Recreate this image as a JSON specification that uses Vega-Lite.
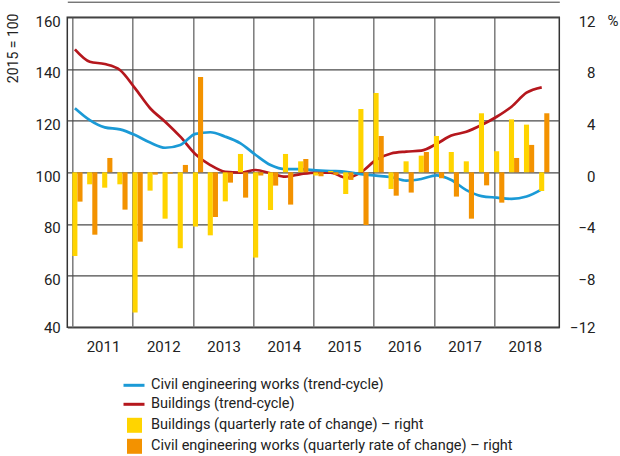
{
  "$schema": "https://vega.github.io/schema/vega-lite/v6.json",
  "width": 492,
  "height": 310,
  "autosize": {"type": "none"},
  "padding": {"left": 67.3, "top": 17.3, "right": 60.7, "bottom": 128.7},
  "background": "white",
  "config": {
    "font": "Roboto",
    "view": {"stroke": "#333333", "strokeWidth": 1.5},
    "axis": {
      "labelFont": "Roboto",
      "labelFontSize": 15,
      "labelColor": "#222222",
      "titleFont": "Roboto",
      "titleFontSize": 14,
      "titleFontWeight": "normal",
      "titleColor": "#222222",
      "ticks": false,
      "tickSize": 0,
      "domain": false
    },
    "legend": {
      "labelFont": "Roboto",
      "labelFontSize": 14.5,
      "labelColor": "#222222",
      "labelLimit": 500,
      "padding": 0,
      "title": null
    }
  },
  "datasets": {
    "trend": [
      {"date": "2011-01-01", "series": "Buildings (trend-cycle)", "value": 147.6},
      {"date": "2011-04-01", "series": "Buildings (trend-cycle)", "value": 142.8},
      {"date": "2011-07-01", "series": "Buildings (trend-cycle)", "value": 141.9},
      {"date": "2011-10-01", "series": "Buildings (trend-cycle)", "value": 139.6},
      {"date": "2012-01-01", "series": "Buildings (trend-cycle)", "value": 132.5},
      {"date": "2012-04-01", "series": "Buildings (trend-cycle)", "value": 124.8},
      {"date": "2012-07-01", "series": "Buildings (trend-cycle)", "value": 119.6},
      {"date": "2012-10-01", "series": "Buildings (trend-cycle)", "value": 113.8},
      {"date": "2013-01-01", "series": "Buildings (trend-cycle)", "value": 107.0},
      {"date": "2013-04-01", "series": "Buildings (trend-cycle)", "value": 102.8},
      {"date": "2013-07-01", "series": "Buildings (trend-cycle)", "value": 100.2},
      {"date": "2013-10-01", "series": "Buildings (trend-cycle)", "value": 99.9},
      {"date": "2014-01-01", "series": "Buildings (trend-cycle)", "value": 100.9},
      {"date": "2014-04-01", "series": "Buildings (trend-cycle)", "value": 99.6},
      {"date": "2014-07-01", "series": "Buildings (trend-cycle)", "value": 98.3},
      {"date": "2014-10-01", "series": "Buildings (trend-cycle)", "value": 99.3},
      {"date": "2015-01-01", "series": "Buildings (trend-cycle)", "value": 99.9},
      {"date": "2015-04-01", "series": "Buildings (trend-cycle)", "value": 99.9},
      {"date": "2015-07-01", "series": "Buildings (trend-cycle)", "value": 97.9},
      {"date": "2015-10-01", "series": "Buildings (trend-cycle)", "value": 100.0},
      {"date": "2016-01-01", "series": "Buildings (trend-cycle)", "value": 104.8},
      {"date": "2016-04-01", "series": "Buildings (trend-cycle)", "value": 107.3},
      {"date": "2016-07-01", "series": "Buildings (trend-cycle)", "value": 108.0},
      {"date": "2016-10-01", "series": "Buildings (trend-cycle)", "value": 108.4},
      {"date": "2017-01-01", "series": "Buildings (trend-cycle)", "value": 111.0},
      {"date": "2017-04-01", "series": "Buildings (trend-cycle)", "value": 114.2},
      {"date": "2017-07-01", "series": "Buildings (trend-cycle)", "value": 115.7},
      {"date": "2017-10-01", "series": "Buildings (trend-cycle)", "value": 118.3},
      {"date": "2018-01-01", "series": "Buildings (trend-cycle)", "value": 121.5},
      {"date": "2018-04-01", "series": "Buildings (trend-cycle)", "value": 125.4},
      {"date": "2018-07-01", "series": "Buildings (trend-cycle)", "value": 130.8},
      {"date": "2018-10-01", "series": "Buildings (trend-cycle)", "value": 132.9},
      {"date": "2011-01-01", "series": "Civil engineering works (trend-cycle)", "value": 124.8},
      {"date": "2011-04-01", "series": "Civil engineering works (trend-cycle)", "value": 120.2},
      {"date": "2011-07-01", "series": "Civil engineering works (trend-cycle)", "value": 117.4},
      {"date": "2011-10-01", "series": "Civil engineering works (trend-cycle)", "value": 116.6},
      {"date": "2012-01-01", "series": "Civil engineering works (trend-cycle)", "value": 114.4},
      {"date": "2012-04-01", "series": "Civil engineering works (trend-cycle)", "value": 111.5},
      {"date": "2012-07-01", "series": "Civil engineering works (trend-cycle)", "value": 109.5},
      {"date": "2012-10-01", "series": "Civil engineering works (trend-cycle)", "value": 110.6},
      {"date": "2013-01-01", "series": "Civil engineering works (trend-cycle)", "value": 114.9},
      {"date": "2013-04-01", "series": "Civil engineering works (trend-cycle)", "value": 115.5},
      {"date": "2013-07-01", "series": "Civil engineering works (trend-cycle)", "value": 113.8},
      {"date": "2013-10-01", "series": "Civil engineering works (trend-cycle)", "value": 111.2},
      {"date": "2014-01-01", "series": "Civil engineering works (trend-cycle)", "value": 106.7},
      {"date": "2014-04-01", "series": "Civil engineering works (trend-cycle)", "value": 102.8},
      {"date": "2014-07-01", "series": "Civil engineering works (trend-cycle)", "value": 101.2},
      {"date": "2014-10-01", "series": "Civil engineering works (trend-cycle)", "value": 101.2},
      {"date": "2015-01-01", "series": "Civil engineering works (trend-cycle)", "value": 100.8},
      {"date": "2015-04-01", "series": "Civil engineering works (trend-cycle)", "value": 100.5},
      {"date": "2015-07-01", "series": "Civil engineering works (trend-cycle)", "value": 100.2},
      {"date": "2015-10-01", "series": "Civil engineering works (trend-cycle)", "value": 99.3},
      {"date": "2016-01-01", "series": "Civil engineering works (trend-cycle)", "value": 98.7},
      {"date": "2016-04-01", "series": "Civil engineering works (trend-cycle)", "value": 98.1},
      {"date": "2016-07-01", "series": "Civil engineering works (trend-cycle)", "value": 96.8},
      {"date": "2016-10-01", "series": "Civil engineering works (trend-cycle)", "value": 97.4},
      {"date": "2017-01-01", "series": "Civil engineering works (trend-cycle)", "value": 98.8},
      {"date": "2017-04-01", "series": "Civil engineering works (trend-cycle)", "value": 97.0},
      {"date": "2017-07-01", "series": "Civil engineering works (trend-cycle)", "value": 93.1},
      {"date": "2017-10-01", "series": "Civil engineering works (trend-cycle)", "value": 90.8},
      {"date": "2018-01-01", "series": "Civil engineering works (trend-cycle)", "value": 90.2},
      {"date": "2018-04-01", "series": "Civil engineering works (trend-cycle)", "value": 89.7},
      {"date": "2018-07-01", "series": "Civil engineering works (trend-cycle)", "value": 90.6},
      {"date": "2018-10-01", "series": "Civil engineering works (trend-cycle)", "value": 93.4}
    ],
    "rate": [
      {"date": "2011-01-01", "series": "Buildings (quarterly rate of change) – right", "value": -6.48},
      {"date": "2011-04-01", "series": "Buildings (quarterly rate of change) – right", "value": -0.93},
      {"date": "2011-07-01", "series": "Buildings (quarterly rate of change) – right", "value": -1.19},
      {"date": "2011-10-01", "series": "Buildings (quarterly rate of change) – right", "value": -0.93},
      {"date": "2012-01-01", "series": "Buildings (quarterly rate of change) – right", "value": -10.86},
      {"date": "2012-04-01", "series": "Buildings (quarterly rate of change) – right", "value": -1.42},
      {"date": "2012-07-01", "series": "Buildings (quarterly rate of change) – right", "value": -3.59},
      {"date": "2012-10-01", "series": "Buildings (quarterly rate of change) – right", "value": -5.88},
      {"date": "2013-01-01", "series": "Buildings (quarterly rate of change) – right", "value": -4.2},
      {"date": "2013-04-01", "series": "Buildings (quarterly rate of change) – right", "value": -4.88},
      {"date": "2013-07-01", "series": "Buildings (quarterly rate of change) – right", "value": -2.25},
      {"date": "2013-10-01", "series": "Buildings (quarterly rate of change) – right", "value": 1.42},
      {"date": "2014-01-01", "series": "Buildings (quarterly rate of change) – right", "value": -6.6},
      {"date": "2014-04-01", "series": "Buildings (quarterly rate of change) – right", "value": -2.92},
      {"date": "2014-07-01", "series": "Buildings (quarterly rate of change) – right", "value": 1.42},
      {"date": "2014-10-01", "series": "Buildings (quarterly rate of change) – right", "value": 0.85},
      {"date": "2015-01-01", "series": "Buildings (quarterly rate of change) – right", "value": -0.25},
      {"date": "2015-04-01", "series": "Buildings (quarterly rate of change) – right", "value": 0.1},
      {"date": "2015-07-01", "series": "Buildings (quarterly rate of change) – right", "value": -1.68},
      {"date": "2015-10-01", "series": "Buildings (quarterly rate of change) – right", "value": 4.9},
      {"date": "2016-01-01", "series": "Buildings (quarterly rate of change) – right", "value": 6.14},
      {"date": "2016-04-01", "series": "Buildings (quarterly rate of change) – right", "value": -1.29},
      {"date": "2016-07-01", "series": "Buildings (quarterly rate of change) – right", "value": 0.85},
      {"date": "2016-10-01", "series": "Buildings (quarterly rate of change) – right", "value": 1.29},
      {"date": "2017-01-01", "series": "Buildings (quarterly rate of change) – right", "value": 2.81},
      {"date": "2017-04-01", "series": "Buildings (quarterly rate of change) – right", "value": 1.57},
      {"date": "2017-07-01", "series": "Buildings (quarterly rate of change) – right", "value": 0.85},
      {"date": "2017-10-01", "series": "Buildings (quarterly rate of change) – right", "value": 4.57},
      {"date": "2018-01-01", "series": "Buildings (quarterly rate of change) – right", "value": 1.63},
      {"date": "2018-04-01", "series": "Buildings (quarterly rate of change) – right", "value": 4.1},
      {"date": "2018-07-01", "series": "Buildings (quarterly rate of change) – right", "value": 3.69},
      {"date": "2018-10-01", "series": "Buildings (quarterly rate of change) – right", "value": -1.45},
      {"date": "2011-01-01", "series": "Civil engineering works (quarterly rate of change) – right", "value": -2.27},
      {"date": "2011-04-01", "series": "Civil engineering works (quarterly rate of change) – right", "value": -4.83},
      {"date": "2011-07-01", "series": "Civil engineering works (quarterly rate of change) – right", "value": 1.11},
      {"date": "2011-10-01", "series": "Civil engineering works (quarterly rate of change) – right", "value": -2.89},
      {"date": "2012-01-01", "series": "Civil engineering works (quarterly rate of change) – right", "value": -5.37},
      {"date": "2012-04-01", "series": "Civil engineering works (quarterly rate of change) – right", "value": -0.18},
      {"date": "2012-07-01", "series": "Civil engineering works (quarterly rate of change) – right", "value": -0.1},
      {"date": "2012-10-01", "series": "Civil engineering works (quarterly rate of change) – right", "value": 0.57},
      {"date": "2013-01-01", "series": "Civil engineering works (quarterly rate of change) – right", "value": 7.38},
      {"date": "2013-04-01", "series": "Civil engineering works (quarterly rate of change) – right", "value": -3.46},
      {"date": "2013-07-01", "series": "Civil engineering works (quarterly rate of change) – right", "value": -0.8},
      {"date": "2013-10-01", "series": "Civil engineering works (quarterly rate of change) – right", "value": -1.96},
      {"date": "2014-01-01", "series": "Civil engineering works (quarterly rate of change) – right", "value": -0.25},
      {"date": "2014-04-01", "series": "Civil engineering works (quarterly rate of change) – right", "value": -1.03},
      {"date": "2014-07-01", "series": "Civil engineering works (quarterly rate of change) – right", "value": -2.5},
      {"date": "2014-10-01", "series": "Civil engineering works (quarterly rate of change) – right", "value": 1.03},
      {"date": "2015-01-01", "series": "Civil engineering works (quarterly rate of change) – right", "value": -0.3},
      {"date": "2015-04-01", "series": "Civil engineering works (quarterly rate of change) – right", "value": -0.2},
      {"date": "2015-07-01", "series": "Civil engineering works (quarterly rate of change) – right", "value": -0.59},
      {"date": "2015-10-01", "series": "Civil engineering works (quarterly rate of change) – right", "value": -4.08},
      {"date": "2016-01-01", "series": "Civil engineering works (quarterly rate of change) – right", "value": 2.81},
      {"date": "2016-04-01", "series": "Civil engineering works (quarterly rate of change) – right", "value": -1.81},
      {"date": "2016-07-01", "series": "Civil engineering works (quarterly rate of change) – right", "value": -1.57},
      {"date": "2016-10-01", "series": "Civil engineering works (quarterly rate of change) – right", "value": 1.57},
      {"date": "2017-01-01", "series": "Civil engineering works (quarterly rate of change) – right", "value": -0.46},
      {"date": "2017-04-01", "series": "Civil engineering works (quarterly rate of change) – right", "value": -1.88},
      {"date": "2017-07-01", "series": "Civil engineering works (quarterly rate of change) – right", "value": -3.59},
      {"date": "2017-10-01", "series": "Civil engineering works (quarterly rate of change) – right", "value": -1.01},
      {"date": "2018-01-01", "series": "Civil engineering works (quarterly rate of change) – right", "value": -2.35},
      {"date": "2018-04-01", "series": "Civil engineering works (quarterly rate of change) – right", "value": 1.11},
      {"date": "2018-07-01", "series": "Civil engineering works (quarterly rate of change) – right", "value": 2.12},
      {"date": "2018-10-01", "series": "Civil engineering works (quarterly rate of change) – right", "value": 4.57}
    ]
  },
  "layer": [
    {
      "data": {"name": "trend"},
      "mark": {"type": "line", "interpolate": "monotone", "strokeWidth": 2.7, "xOffset": 2.6},
      "encoding": {
        "x": {
          "field": "date",
          "type": "temporal",
          "scale": {
            "domain": [
              {"year": 2011, "month": 1, "date": 1},
              {"year": 2019, "month": 1, "date": 1}
            ]
          },
          "axis": {
            "title": null,
            "values": [
              {"year": 2011, "month": 1, "date": 1},
              {"year": 2012, "month": 1, "date": 1},
              {"year": 2013, "month": 1, "date": 1},
              {"year": 2014, "month": 1, "date": 1},
              {"year": 2015, "month": 1, "date": 1},
              {"year": 2016, "month": 1, "date": 1},
              {"year": 2017, "month": 1, "date": 1},
              {"year": 2018, "month": 1, "date": 1}
            ],
            "format": "%Y",
            "grid": true,
            "gridColor": "#7a7a7a",
            "gridWidth": 1.5,
            "labelOffset": 30.75,
            "labelPadding": 12,
            "labelAlign": "center",
            "labelBaseline": "top",
            "labelFlush": false,
            "labelOverlap": false,
            "labelBound": false
          }
        },
        "y": {
          "field": "value",
          "type": "quantitative",
          "scale": {"domain": [40, 160], "nice": false, "zero": false},
          "axis": {
            "orient": "left",
            "values": [40, 60, 80, 100, 120, 140, 160],
            "grid": true,
            "gridColor": "#4a4a4a",
            "gridWidth": 1.3,
            "labelPadding": 7,
            "labelAlign": "right",
            "labelBaseline": "middle",
            "labelOffset": {"condition": {"test": "datum.value == 40", "value": 0}, "value": 3.8},
            "title": "2015 = 100",
            "titleAngle": -90,
            "titleX": -54.3,
            "titleY": -4.3,
            "titleAlign": "right",
            "titleBaseline": "middle"
          }
        },
        "stroke": {
          "field": "series",
          "type": "nominal",
          "scale": {
            "domain": ["Civil engineering works (trend-cycle)", "Buildings (trend-cycle)"],
            "range": ["#1b9ad6", "#b5171d"]
          },
          "legend": {
            "orient": "none",
            "legendX": 54.7,
            "legendY": 356,
            "symbolType": "stroke",
            "symbolSize": 441,
            "symbolStrokeWidth": 3,
            "labelOffset": 5,
            "rowPadding": 0
          }
        }
      }
    },
    {
      "data": {"name": "rate"},
      "encoding": {
        "x": {
          "field": "date",
          "type": "temporal",
          "scale": {
            "domain": [
              {"year": 2011, "month": 1, "date": 1},
              {"year": 2019, "month": 1, "date": 1}
            ]
          },
          "axis": {
            "orient": "top",
            "offset": 15.6,
            "domain": true,
            "domainColor": "#3a3a3a",
            "domainWidth": 1,
            "labels": false,
            "grid": false,
            "ticks": false,
            "title": null
          }
        },
        "y": {
          "field": "value",
          "type": "quantitative",
          "scale": {"domain": [-12, 12], "nice": false},
          "axis": {
            "orient": "right",
            "values": [-12, -8, -4, 0, 4, 8, 12],
            "grid": false,
            "labelAlign": "right",
            "labelBaseline": "middle",
            "labelPadding": 35.7,
            "labelOffset": {"condition": {"test": "datum.value == -12", "value": 0}, "value": 3.8},
            "labelExpr": "datum.value < 0 ? '\u2212' + abs(datum.value) : '' + datum.value",
            "title": "%",
            "titleAngle": 0,
            "titleX": 53.2,
            "titleY": 3.5,
            "titleAlign": "center",
            "titleBaseline": "middle",
            "titleFontSize": 15
          }
        },
        "fill": {
          "field": "series",
          "type": "nominal",
          "scale": {
            "domain": ["Buildings (quarterly rate of change) – right", "Civil engineering works (quarterly rate of change) – right"],
            "range": ["#ffd400", "#f39200"]
          },
          "legend": {
            "orient": "none",
            "legendX": 59.7,
            "legendY": 400.5,
            "symbolType": "square",
            "symbolSize": 225,
            "symbolStrokeWidth": 0,
            "symbolOpacity": 1,
            "labelOffset": 9,
            "rowPadding": 5
          }
        }
      },
      "layer": [
        {
          "transform": [{"filter": {"field": "series", "equal": "Buildings (quarterly rate of change) – right"}}],
          "mark": {"type": "bar", "orient": "vertical", "width": 5.1, "xOffset": 2.56}
        },
        {
          "transform": [{"filter": {"field": "series", "equal": "Civil engineering works (quarterly rate of change) – right"}}],
          "mark": {"type": "bar", "orient": "vertical", "width": 5.1, "xOffset": 7.69}
        }
      ]
    }
  ],
  "resolve": {"scale": {"y": "independent"}, "axis": {"y": "independent", "x": "independent"}}
}
